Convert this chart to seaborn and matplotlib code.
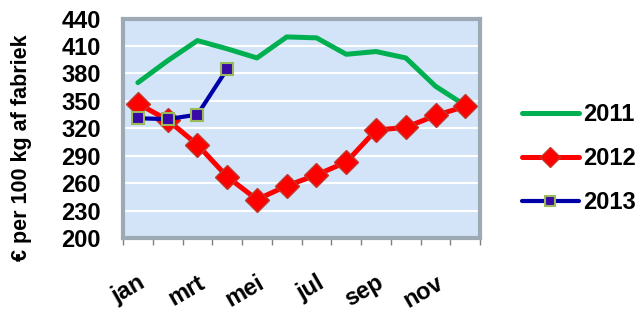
import numpy as np
import pandas as pd
import seaborn as sns
from matplotlib import pyplot as plt

# month data
months = ['jan', 'feb', 'mrt', 'apr', 'mei', 'jun', 'jul', 'aug', 'sep', 'okt', 'nov', 'dec']
prices_2011 = [370, 394, 416, 407, 397, 420, 419, 401, 404, 397, 366, 345]
prices_2012 = [347, 329, 302, 267, 242, 257, 269, 283, 318, 321, 334, 344]
prices_2013 = [331, 330, 335, 385]
tick_labels = ['jan', 'mrt', 'mei', 'jul', 'sep', 'nov']

sns.set_theme(style='white')
plt.rcParams['font.family'] = ['Liberation Sans', 'DejaVu Sans']
plt.rcParams['font.weight'] = 'bold'
plt.rcParams['text.color'] = 'black'
plt.rcParams['axes.labelcolor'] = 'black'

df11 = pd.DataFrame({'month': range(12), 'price': prices_2011})
df12 = pd.DataFrame({'month': range(12), 'price': prices_2012})
df13 = pd.DataFrame({'month': range(len(prices_2013)), 'price': prices_2013})

fig = plt.figure(figsize=(6.42, 3.11), dpi=100)
ax = fig.add_axes([0.1916, 0.235, 0.5564, 0.705])
ax.set_facecolor('#d3e4f8')

sns.lineplot(data=df11, x='month', y='price', ax=ax, color='#00b050', lw=3.6,
             label='2011')
sns.lineplot(data=df12, x='month', y='price', ax=ax, color='#ff0000', lw=3.6,
             marker='D', markersize=12, markeredgecolor='#c0392b',
             markeredgewidth=1, label='2012')
sns.lineplot(data=df13, x='month', y='price', ax=ax, color='#0000a8', lw=3,
             marker='s', markersize=9, markerfacecolor='#3a0aa8',
             markeredgecolor='#9bbb59', markeredgewidth=1.5, label='2013')

ax.set_xlim(-0.5, 11.5)
ax.set_ylim(200, 440)
ax.set_yticks(np.arange(200, 441, 30))
ax.yaxis.grid(True, color='white', lw=1.5)
ax.set_axisbelow(True)

# tick marks on month boundaries, labels every other month
ax.set_xticks(np.arange(-0.5, 12, 1), minor=True)
ax.set_xticks(np.arange(0, 12, 2))
ax.set_xticklabels(tick_labels, rotation=30, ha='right', rotation_mode='anchor',
                   fontsize=17, fontweight='bold')
ax.tick_params(axis='x', which='major', length=0, pad=24, labelcolor='black')
ax.tick_params(axis='x', which='minor', length=5, color='#808080', width=1,
               direction='out', bottom=True)
ax.tick_params(axis='y', length=0, labelsize=17, pad=16, labelcolor='black')
for lab in ax.get_yticklabels():
    lab.set_fontweight('bold')

for side in ['top', 'right', 'left', 'bottom']:
    ax.spines[side].set_color('#9ea9b6')
    ax.spines[side].set_linewidth(3)

ax.set_xlabel('')
ax.set_ylabel('€ per 100 kg af fabriek', fontsize=15.5, fontweight='bold')
ax.yaxis.set_label_coords(-0.255, 0.41)

handles, labels = ax.get_legend_handles_labels()
ax.get_legend().remove()
fig.legend(handles, labels, loc='center left', bbox_to_anchor=(0.813, 0.49),
           frameon=False, handlelength=2.4, labelspacing=0.9, borderpad=0,
           borderaxespad=0, prop={'size': 17, 'weight': 'bold'}, handletextpad=0.2,
           markerscale=0.85)

fig.savefig('out.png', dpi=100)
